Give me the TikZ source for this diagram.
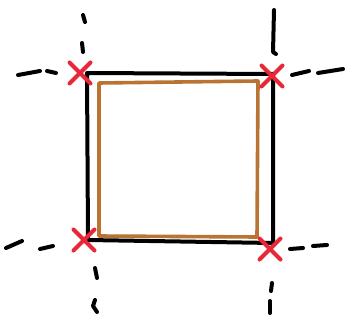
\documentclass[tikz,border=0pt]{standalone}
\usepackage{tikz}
\usetikzlibrary{shapes.misc}
\usetikzlibrary{positioning}
\definecolor{copper}{RGB}{185,115,50}
\definecolor{marker}{RGB}{230,40,55}

\begin{document}
\begin{tikzpicture}[x=1pt,y=-1pt,line cap=round,line join=round,
    pen/.style={line width=4pt,black},
    inner/.style={line width=3.6pt,copper},
    cornerx/.style={cross out,draw=marker,line width=4pt,minimum size=17pt,inner sep=0pt}]
    \useasboundingbox (0,0) rectangle (352,323);

    % corners of the cell
    \coordinate (nw) at (87,73);
    \coordinate (ne) at (273,74);
    \coordinate (sw) at (88,240);
    \coordinate (se) at (273,243);

    % outer square
    \draw[pen] (nw) -- (ne) -- (se) -- (sw) -- cycle;

    % inner square
    \draw[inner] (99,83) -- (258,81) -- (257,237) -- (99,236) -- cycle;

    % dashed continuations
    \draw[pen] (18,75) -- (40,71);
    \draw[pen] (47,71) -- (56,73);
    \draw[pen] (83,15) -- (85,22);
    \draw[pen] (82,43) -- (83,52);
    \draw[pen] (274,10) -- (273,52) -- (276,54);
    \draw[pen] (292,75) -- (309,71);
    \draw[pen] (318,73) -- (343,69);
    \draw[pen] (6,248) -- (22,241);
    \draw[pen] (40,249) -- (53,246);
    \draw[pen] (95,268) -- (97,278);
    \draw[pen] (95,300) -- (93,306) -- (97,312);
    \draw[pen] (290,249) -- (303,248);
    \draw[pen] (313,246) -- (327,245);
    \draw[pen] (272,283) -- (271,291);
    \draw[pen] (270,301) -- (270,313);

    % corner markers
    \node[cornerx] (xnw) at (80,73) {};
    \node[cornerx] (xne) at (272,76) {};
    \node[cornerx] (xsw) at (84,240) {};
    \node[cornerx] (xse) at (270,249) {};
\end{tikzpicture}
\end{document}
